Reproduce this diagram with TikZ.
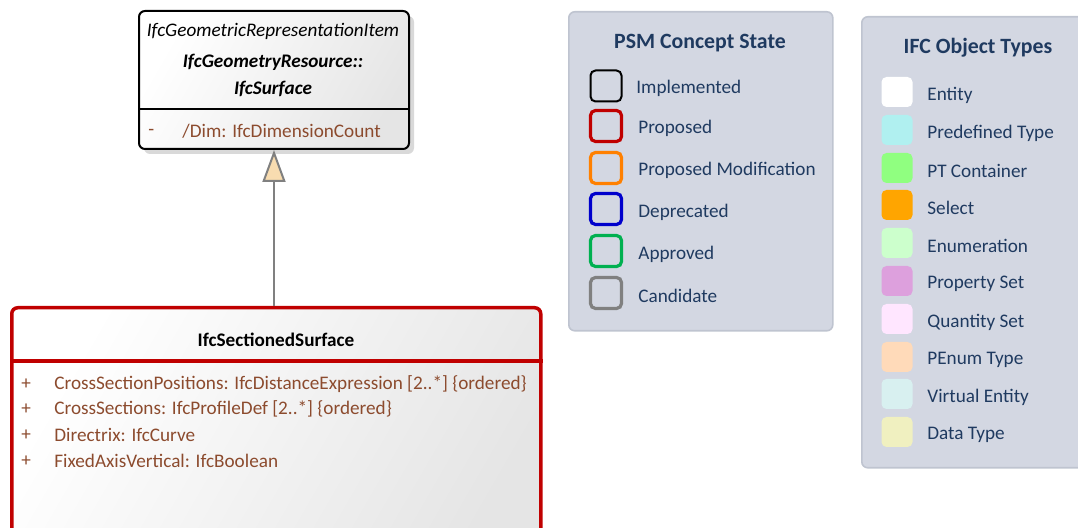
\documentclass[tikz,border=0pt]{standalone}
\usepackage{fontspec}
\setmainfont{Carlito}
\usetikzlibrary{arrows.meta,shadows}

\definecolor{attrbrown}{HTML}{8C4B2E}
\definecolor{legendtext}{HTML}{1F3A60}
\definecolor{legendbg}{HTML}{D3D7E2}
\definecolor{legendline}{HTML}{BFC4D0}
\definecolor{propred}{HTML}{C00000}
\definecolor{tipfill}{HTML}{F8DCB0}

\tikzset{
  classbox/.style={anchor=north west, inner sep=0pt, rounded corners=3pt,
    shading=axis, left color=white, right color=black!10, shading angle=60},
  attr/.style={anchor=west, inner sep=0pt, text=attrbrown, font=\fontsize{9.6}{11}\selectfont},
  legendbox/.style={anchor=north west, inner sep=0pt, rounded corners=3pt,
    fill=legendbg, draw=legendline, line width=0.8pt},
  legendtitle/.style={text=legendtext, font=\fontsize{10.9}{12}\selectfont\bfseries},
  legendlabel/.style={anchor=west, inner sep=0pt, text=legendtext, font=\fontsize{9.6}{11}\selectfont},
  statebox/.style={minimum size=15.5pt, inner sep=0pt, rounded corners=2.5pt, line width=1.6pt},
  typebox/.style={minimum width=15.5pt, minimum height=15pt, inner sep=0pt, rounded corners=2.5pt}
}

\begin{document}
\begin{tikzpicture}[x=0.5pt,y=-0.5pt]
\clip (0,0) rectangle (1078,528);
\useasboundingbox (0,0) rectangle (1078,528);

% supertype
\node[classbox, draw=black, line width=1pt, minimum width=135pt, minimum height=69pt,
  drop shadow={shadow xshift=2.5pt, shadow yshift=-2.5pt, opacity=0.3}] (surf) at (138,10) {};
\draw[line width=0.9pt] (surf.west |- 0,109) -- (surf.east |- 0,109);
\node[font=\fontsize{9.6}{11}\selectfont\itshape] (surfstereo) at (273,31) {IfcGeometricRepresentationItem};
\node[font=\fontsize{9.6}{11}\selectfont\bfseries\itshape] (surfpkg) at (273,62) {IfcGeometryResource::};
\node[font=\fontsize{9.6}{11}\selectfont\bfseries\itshape] (surfname) at (273,89) {IfcSurface};
\node[attr] (dimvis) at (148,132) {-};
\node[attr] (dim) at (182,131) {/Dim: IfcDimensionCount};

% sectioned surface
\node[classbox, draw=propred, line width=1.75pt, minimum width=264.5pt, minimum height=125pt] (sect) at (10,306) {};
\draw[propred, line width=1.75pt] (sect.west |- 0,361) -- (sect.east |- 0,361);
\node[font=\fontsize{9.6}{11}\selectfont\bfseries] (sectname) at (276,340) {IfcSectionedSurface};
\node[attr] (plusa) at (21,384) {+};
\node[attr] (attra) at (54,384) {CrossSectionPositions: IfcDistanceExpression [2..*] \{ordered\}};
\node[attr] (plusb) at (21,409) {+};
\node[attr] (attrb) at (54,409) {CrossSections: IfcProfileDef [2..*] \{ordered\}};
\node[attr] (plusc) at (21,435) {+};
\node[attr] (attrc) at (54,435) {Directrix: IfcCurve};
\node[attr] (plusd) at (21,461) {+};
\node[attr] (attrd) at (54,461) {FixedAxisVertical: IfcBoolean};

% generalization
\draw[draw=black!50, line width=1pt, -{Triangle[length=16pt, width=11.5pt, fill=tipfill]}]
  (surf.south |- sect.north) -- (surf.south);

% concept state legend
\node[legendbox, minimum width=132pt, minimum height=159.5pt] (psm) at (568,11) {};
\node[legendtitle] (psmtitle) at (700,43) {PSM Concept State};
\node[statebox, draw=black, line width=1pt] (impl) at (606,86) {};
\node[legendlabel] (impltext) at (636,88) {Implemented};
\node[statebox, draw=propred] (prop) at (606,126) {};
\node[legendlabel] (proptext) at (638,128) {Proposed};
\node[statebox, draw=orange] (propmod) at (606,168) {};
\node[legendlabel] (propmodtext) at (638,170) {Proposed Modification};
\node[statebox, draw=blue!80!black] (depr) at (606,209) {};
\node[legendlabel] (deprtext) at (638,212) {Deprecated};
\node[statebox, draw={rgb,255:red,0;green,176;blue,80}] (appr) at (606,251) {};
\node[legendlabel] (apprtext) at (638,254) {Approved};
\node[statebox, draw=black!50] (cand) at (606,293) {};
\node[legendlabel] (candtext) at (638,296) {Candidate};

% object type legend
\node[legendbox, minimum width=115pt, minimum height=225.5pt] (ifc) at (861,16) {};
\node[legendtitle] (ifctitle) at (978,48) {IFC Object Types};
\node[typebox, fill=white] (entity) at (897,92) {};
\node[legendlabel] (entitytext) at (927,95) {Entity};
\node[typebox, fill={rgb,255:red,176;green,240;blue,240}] (predef) at (897,130) {};
\node[legendlabel] (predeftext) at (927,133) {Predefined Type};
\node[typebox, fill={rgb,255:red,144;green,255;blue,128}] (ptcont) at (897,168) {};
\node[legendlabel] (ptconttext) at (927,171) {PT Container};
\node[typebox, fill={rgb,255:red,255;green,165;blue,0}] (select) at (897,205) {};
\node[legendlabel] (selecttext) at (927,208) {Select};
\node[typebox, fill={rgb,255:red,204;green,255;blue,204}] (enum) at (897,243) {};
\node[legendlabel] (enumtext) at (927,246) {Enumeration};
\node[typebox, fill={rgb,255:red,221;green,160;blue,221}] (pset) at (897,281) {};
\node[legendlabel] (psettext) at (927,284) {Property Set};
\node[typebox, fill={rgb,255:red,255;green,230;blue,255}] (qset) at (897,319) {};
\node[legendlabel] (qsettext) at (927,322) {Quantity Set};
\node[typebox, fill={rgb,255:red,255;green,218;blue,185}] (penum) at (897,357) {};
\node[legendlabel] (penumtext) at (927,360) {PEnum Type};
\node[typebox, fill={rgb,255:red,216;green,240;blue,240}] (virt) at (897,394) {};
\node[legendlabel] (virttext) at (927,397) {Virtual Entity};
\node[typebox, fill={rgb,255:red,240;green,240;blue,192}] (dtype) at (897,432) {};
\node[legendlabel] (dtypetext) at (927,435) {Data Type};
\end{tikzpicture}
\end{document}
